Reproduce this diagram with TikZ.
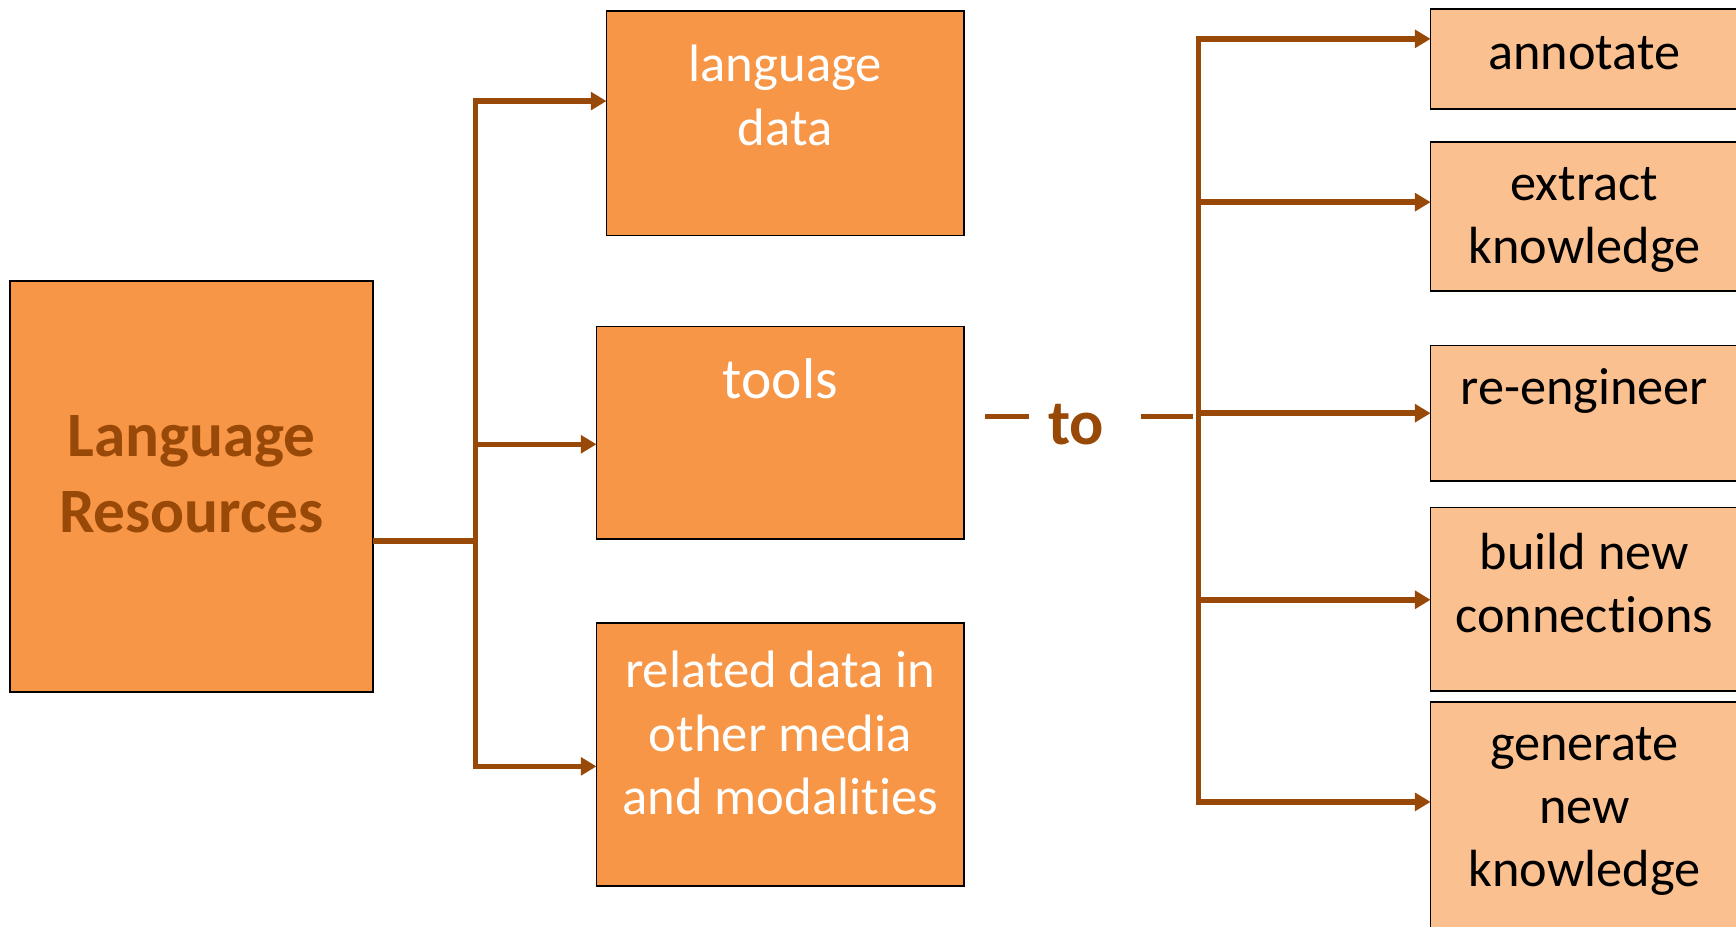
\documentclass[tikz,border=0pt]{standalone}
\usepackage{fontspec}
\setmainfont{Carlito}[Ligatures=NoCommon]
\usetikzlibrary{arrows.meta}
\definecolor{darkor}{HTML}{F79646}
\definecolor{lightor}{HTML}{FAC090}
\definecolor{brownln}{HTML}{984807}
\begin{document}
\begin{tikzpicture}[x=0.02cm,y=-0.02cm,
  dbox/.style={draw=black, line width=0.9pt, fill=darkor, inner sep=0pt, outer sep=0pt},
  lbox/.style={draw=black, line width=0.9pt, fill=lightor, inner sep=0pt, outer sep=0pt},
  conn/.style={draw=brownln, line width=2.8pt},
  arr/.style={conn, -{Triangle[length=8pt,width=9pt]}},
  wtxt/.style={text=white, align=center, inner sep=0pt, font=\fontsize{27}{32.5}\selectfont},
  btxt/.style={text=black, align=center, inner sep=0pt, font=\fontsize{26.8}{32.3}\selectfont},
  lrtxt/.style={text=brownln, align=center, inner sep=0pt, font=\bfseries\fontsize{32.4}{39}\selectfont},
]
\useasboundingbox (0,0) rectangle (1563,834.6);
\fill[white] (0,0) rectangle (1563,834.6);
% left boxes
\node[dbox, minimum width=6.54cm, minimum height=7.40cm] (lr) at (172.5,438) {};
\node[lrtxt] (lrt) at (172.5,427) {Language\\Resources};
\node[dbox, minimum width=6.44cm, minimum height=4.04cm] (ld) at (707,111) {};
\node[wtxt] (ldt) at (707,86) {language\\data};
\node[dbox, minimum width=6.62cm, minimum height=3.82cm] (tl) at (702.5,389.5) {};
\node[wtxt, font=\fontsize{29.5}{35}\selectfont] (tlt) at (702.5,341) {tools};
\node[dbox, minimum width=6.62cm, minimum height=4.74cm] (rd) at (702.5,679.5) {};
\node[wtxt] (rdt) at (702.5,660) {related data in\\other media\\and modalities};
% right boxes
\node[lbox, minimum width=5.54cm, minimum height=1.80cm] (an) at (1426.5,53) {};
\node[btxt] (ant) at (1426.5,48) {annotate};
\node[lbox, minimum width=5.54cm, minimum height=2.68cm] (ex) at (1426.5,195) {};
\node[btxt] (ext) at (1426.5,198) {extract\\knowledge};
\node[lbox, minimum width=5.54cm, minimum height=2.44cm] (re) at (1426.5,372) {};
\node[btxt] (ret) at (1426.5,352) {re-engineer};
\node[lbox, minimum width=5.54cm, minimum height=3.30cm] (bn) at (1426.5,539.5) {};
\node[btxt] (bnt) at (1426.5,525) {build new\\connections};
\node[lbox, minimum width=5.54cm, minimum height=6.00cm] (gn) at (1426.5,782) {};
\node[btxt] (gnt) at (1426.5,731) {generate\\new\\knowledge};
% left connectors
\coordinate (lt1) at (428,91);
\coordinate (lt2) at (428,400);
\coordinate (lt3) at (428,690);
\coordinate (ltm) at (428,487);
\draw[conn, line cap=rect] (lt1) -- (lt3);
\draw[conn] (ltm -| lr.east) -- (ltm);
\draw[arr] (lt1) -- (lt1 -| ld.west);
\draw[arr] (lt2) -- (lt2 -| tl.west);
\draw[arr] (lt3) -- (lt3 -| rd.west);
% to
\node[text=brownln, inner sep=0pt, font=\bfseries\fontsize{32.7}{39}\selectfont] (to) at (969,382) {to};
\coordinate (d1a) at (887,375);
\coordinate (d1b) at (926,375);
\coordinate (d2a) at (1027,375);
\coordinate (d2b) at (1074,375);
\draw[conn] (d1a) -- (d1b);
\draw[conn] (d2a) -- (d2b);
% right connectors
\coordinate (rt1) at (1079,35);
\coordinate (rt2) at (1079,182);
\coordinate (rt3) at (1079,372);
\coordinate (rt4) at (1079,540);
\coordinate (rt5) at (1079,722);
\draw[conn, line cap=rect] (rt1) -- (rt5);
\draw[arr] (rt1) -- (rt1 -| an.west);
\draw[arr] (rt2) -- (rt2 -| ex.west);
\draw[arr] (rt3) -- (rt3 -| re.west);
\draw[arr] (rt4) -- (rt4 -| bn.west);
\draw[arr] (rt5) -- (rt5 -| gn.west);
\end{tikzpicture}
\end{document}
